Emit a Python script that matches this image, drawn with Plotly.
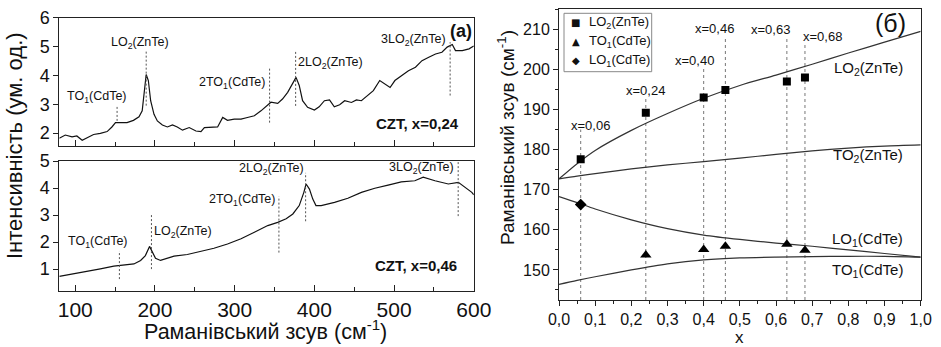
import plotly.graph_objects as go

# ---------------- data ----------------
# spectrum, CZT x=0,24 (top panel)
top_shift = [80, 87.5, 96, 102, 108.7, 115, 123, 131.5, 140, 146, 150.5, 156.8, 165, 173, 180, 184, 187, 189,
             191.7, 194.6, 198.8, 203, 209.3, 215.6, 222, 228, 234.6, 243, 251.4, 257.7, 262, 270, 278.6, 285,
             291, 299.5, 308, 316, 324.7, 333, 341, 345.5, 354, 360, 366.5, 372.8, 377, 381, 385.2, 391.5, 400,
             406, 412.6, 419, 425, 431.7, 438, 446.5, 452.8, 459, 467.5, 474, 482, 488.6, 495, 501, 510, 518,
             526.8, 535, 543.5, 552, 560, 566.6, 573, 577, 585.6, 594, 600]
top_int = [1.82, 1.93, 1.87, 1.90, 1.75, 1.84, 1.95, 1.99, 2.05, 2.21, 2.36, 2.36, 2.36, 2.44, 2.56, 2.77, 3.47,
           4.03, 3.82, 3.12, 2.65, 2.42, 2.28, 2.21, 2.28, 2.21, 2.10, 2.19, 2.07, 2.05, 2.19, 2.21, 2.21, 2.54,
           2.44, 2.48, 2.48, 2.54, 2.60, 2.77, 2.98, 3.07, 3.03, 3.18, 3.41, 3.70, 3.93, 3.65, 3.12, 2.89, 2.80,
           2.91, 3.12, 3.15, 2.91, 2.98, 3.12, 3.06, 3.15, 3.12, 3.30, 3.47, 3.82, 3.70, 3.58, 3.82, 3.99, 4.16,
           4.28, 4.51, 4.63, 4.74, 4.80, 4.98, 5.07, 4.86, 4.86, 4.92, 5.02]

# spectrum, CZT x=0,46 (bottom panel)
bot_shift = [80, 98, 115, 131.5, 148.4, 157, 173.6, 182, 188, 193.2, 196.5, 200.7, 207, 224, 240.6, 257.3, 274,
             291, 308, 324.7, 341.5, 354, 364.6, 373, 381, 386.8, 389.6, 393.8, 398, 402, 408.5, 425.3, 442, 459,
             475.8, 492.5, 509, 526, 536.5, 551.3, 568, 580.6, 589, 597.5, 600]
bot_int = [0.73, 0.82, 0.91, 1.01, 1.11, 1.13, 1.19, 1.32, 1.50, 1.84, 1.62, 1.40, 1.32, 1.48, 1.54, 1.65, 1.77,
           1.93, 2.12, 2.36, 2.61, 2.73, 2.86, 3.04, 3.35, 3.84, 4.15, 3.96, 3.59, 3.35, 3.35, 3.47, 3.62, 3.84,
           3.99, 4.11, 4.23, 4.27, 4.40, 4.27, 4.15, 4.21, 4.03, 3.84, 3.75]

# mode markers (dashed lines) in spectra
mode_names = ["TO<sub>1</sub>(CdTe)", "LO<sub>2</sub>(ZnTe)", "2TO<sub>1</sub>(CdTe)",
              "2LO<sub>2</sub>(ZnTe)", "3LO<sub>2</sub>(ZnTe)"]
top_mode_x = [152.5, 189, 343.8, 376.5, 570.3]
top_mode_y0 = [2.42, 2.95, 2.36, 2.94, 3.3]
top_mode_y1 = [2.91, 4.86, 4.28, 4.86, 5.15]
bot_mode_x = [155.4, 195.6, 355.5, 389, 580.4]
bot_mode_y0 = [0.63, 1.0, 1.61, 2.77, 2.96]
bot_mode_y1 = [1.67, 3.02, 3.69, 4.56, 4.96]

# panel (б): composition dependence
comp_x = [0.06, 0.24, 0.40, 0.46, 0.63, 0.68]
comp_labels = ["x=0,06", "x=0,24", "x=0,40", "x=0,46", "x=0,63", "x=0,68"]
comp_line_top = [185.0, 192.8, 200.3, 208.0, 208.0, 206.1]
lo2_pts = [177.6, 189.2, 193.0, 194.9, 197.0, 198.0]
to1_x = [0.24, 0.40, 0.46, 0.63, 0.68]
to1_pts = [153.7, 155.1, 155.9, 156.4, 154.9]
lo1_x = [0.06]
lo1_pts = [166.3]

curve_x = [0, 0.05, 0.1, 0.2, 0.3, 0.4, 0.5, 0.6, 0.7, 0.8, 0.9, 1.0]
lo2_curve = [172.7, 176.5, 179.8, 184.8, 189.0, 192.8, 196.0, 198.6, 201.3, 204.1, 206.8, 209.5]
to2_curve = [172.7, 173.4, 174.0, 175.2, 176.2, 177.0, 177.9, 178.8, 179.7, 180.4, 180.9, 181.2]
lo1_curve = [168.3, 166.8, 165.2, 162.5, 160.3, 158.7, 157.6, 156.7, 155.9, 155.0, 154.1, 153.2]
to1_curve = [146.4, 147.4, 148.3, 150.0, 151.5, 152.5, 153.0, 153.2, 153.3, 153.4, 153.4, 153.2]

x_ticks = [0.0, 0.1, 0.2, 0.3, 0.4, 0.5, 0.6, 0.7, 0.8, 0.9, 1.0]
x_ticktext = ["0,0", "0,1", "0,2", "0,3", "0,4", "0,5", "0,6", "0,7", "0,8", "0,9", "1,0"]

# ---------------- figure ----------------
W, H = 941, 347
FONT = "Liberation Sans, Arial, sans-serif"


def P(x, y):
    return x / W, 1 - y / H


fig = go.Figure()

fig.add_trace(go.Scatter(x=top_shift, y=top_int, mode="lines", line=dict(color="#111", width=1.2),
                         xaxis="x", yaxis="y", showlegend=False))
fig.add_trace(go.Scatter(x=bot_shift, y=bot_int, mode="lines", line=dict(color="#111", width=1.2),
                         xaxis="x2", yaxis="y2", showlegend=False))

curve_line = dict(color="#333", width=1.2, shape="spline", smoothing=0.8)
for cy in [lo2_curve, to2_curve, lo1_curve, to1_curve]:
    fig.add_trace(go.Scatter(x=curve_x, y=cy, mode="lines", line=curve_line,
                             xaxis="x3", yaxis="y3", showlegend=False))

fig.add_trace(go.Scatter(x=comp_x, y=lo2_pts, mode="markers", name="LO2(ZnTe)",
                         marker=dict(symbol="square", size=8, color="black"),
                         xaxis="x3", yaxis="y3", showlegend=False))
fig.add_trace(go.Scatter(x=to1_x, y=to1_pts, mode="markers", name="TO1(CdTe)",
                         marker=dict(symbol="triangle-up", size=10, color="black"),
                         xaxis="x3", yaxis="y3", showlegend=False))
fig.add_trace(go.Scatter(x=lo1_x, y=lo1_pts, mode="markers", name="LO1(CdTe)",
                         marker=dict(symbol="diamond", size=9, color="black"),
                         xaxis="x3", yaxis="y3", showlegend=False))

shapes = []
for xv, a, b in zip(top_mode_x, top_mode_y0, top_mode_y1):
    shapes.append(dict(type="line", xref="x", yref="y", x0=xv, x1=xv, y0=a, y1=b,
                       line=dict(color="#555", width=1, dash="2px,2px")))
for xv, a, b in zip(bot_mode_x, bot_mode_y0, bot_mode_y1):
    shapes.append(dict(type="line", xref="x2", yref="y2", x0=xv, x1=xv, y0=a, y1=b,
                       line=dict(color="#555", width=1, dash="2px,2px")))
for xv, t in zip(comp_x, comp_line_top):
    shapes.append(dict(type="line", xref="x3", yref="y3", x0=xv, x1=xv, y0=142.5, y1=t, layer="below",
                       line=dict(color="#777", width=1, dash="dot")))
# legend box
lx0, ly0 = P(564, 13.3)
lx1, ly1 = P(651.7, 71.7)
shapes.append(dict(type="rect", xref="paper", yref="paper", x0=lx0, x1=lx1, y0=ly1, y1=ly0,
                   line=dict(color="#888", width=1), fillcolor="white"))

ann = []


def A(text, x, y, size, bold=False, xanchor="center", angle=0, family=FONT):
    px, py = P(x, y)
    ann.append(dict(text=("<b>%s</b>" % text) if bold else text, x=px, y=py, xref="paper", yref="paper",
                    xanchor=xanchor, yanchor="middle", showarrow=False, textangle=angle,
                    font=dict(family=family, size=size, color="#111")))


# top spectrum labels
for t, (x, y) in zip(mode_names, [(96.5, 97.5), (140.3, 43), (231.7, 83.3), (330.5, 63.3), (413.3, 40)]):
    A(t, x, y, 12.5)
A("(a)", 461, 30.7, 18, bold=True)
A("CZT, x=0,24", 417.7, 123.3, 15, bold=True)
# bottom spectrum labels
for t, (x, y) in zip(mode_names, [(97.5, 241.7), (183.3, 231.7), (241.7, 200), (271, 168.7), (421.7, 168)]):
    A(t, x, y, 12.5)
A("CZT, x=0,46", 415.8, 265.8, 15, bold=True)
# axis titles
A("Інтенсивність (ум. од.)", 14, 146, 22, angle=-90)
A("Раманівський зсув (см<sup>-1</sup>)", 265, 330, 21.5)
A("Раманівський зсув (см<sup>-1</sup>)", 506, 137, 19, angle=-90)
A("x", 739, 337.5, 17)
# panel (б) labels
A("(б)", 890, 23, 25)
A("LO<sub>2</sub>(ZnTe)", 905, 69, 15, xanchor="right")
A("TO<sub>2</sub>(ZnTe)", 905, 155, 15, xanchor="right")
A("LO<sub>1</sub>(CdTe)", 905, 239, 15, xanchor="right")
A("TO<sub>1</sub>(CdTe)", 905, 270, 15, xanchor="right")
for t, (x, y) in zip(comp_labels, [(590, 125), (645.7, 90), (694, 60), (714, 28.3), (770.7, 30), (822.3, 36)]):
    A(t, x, y, 13)
# legend entries
for sym, t, y in zip(["■", "▲", "◆"], ["LO<sub>2</sub>(ZnTe)", "TO<sub>1</sub>(CdTe)", "LO<sub>1</sub>(CdTe)"],
                     [22.7, 41.7, 60]):
    A(sym, 575.7, y, 10, family="DejaVu Sans")
    A(t, 586.5, y, 13, xanchor="left")

axis_common = dict(showline=True, linecolor="#222", linewidth=1, mirror=True, showgrid=False,
                   zeroline=False, tickcolor="#222", automargin=False)

fig.update_layout(
    template="none",
    width=W, height=H, margin=dict(l=0, r=0, t=0, b=0, pad=0), autosize=False,
    paper_bgcolor="white", plot_bgcolor="white",
    font=dict(family=FONT, color="#111"),
    shapes=shapes, annotations=ann, showlegend=False,
    xaxis=dict(domain=[59.3 / W, 473.8 / W], range=[80, 600], anchor="y", showticklabels=False,
               ticks="inside", ticklen=6, tickvals=[100, 200, 300, 400, 500, 600],
               minor=dict(dtick=50, tick0=50, ticks="inside", ticklen=4, tickcolor="#222"), **axis_common),
    yaxis=dict(domain=[1 - 146 / H, 1 - 17.7 / H], range=[1.55, 6], anchor="x",
               tickvals=[2, 3, 4, 5, 6], ticks="outside", ticklen=5, tickfont=dict(size=18), **axis_common),
    xaxis2=dict(domain=[59.3 / W, 473.8 / W], range=[80, 600], anchor="y2",
                ticks="inside", ticklen=6, tickvals=[100, 200, 300, 400, 500, 600], tickfont=dict(size=21),
                minor=dict(dtick=50, tick0=50, ticks="inside", ticklen=4, tickcolor="#222"), **axis_common),
    yaxis2=dict(domain=[1 - 290.7 / H, 1 - 161 / H], range=[0.2, 5], anchor="x2",
                tickvals=[1, 2, 3, 4, 5], ticks="outside", ticklen=5, tickfont=dict(size=18), **axis_common),
    xaxis3=dict(domain=[559 / W, 920.7 / W], range=[0, 1], anchor="y3",
                tickvals=x_ticks, ticktext=x_ticktext, ticks="outside", ticklen=5, tickfont=dict(size=16),
                minor=dict(dtick=0.05, tick0=0.05, ticks="outside", ticklen=3, tickcolor="#222"), **axis_common),
    yaxis3=dict(domain=[1 - 300 / H, 1 - 9.3 / H], range=[142.5, 215], anchor="x3",
                tickvals=[150, 160, 170, 180, 190, 200, 210], ticks="outside", ticklen=5, tickfont=dict(size=16),
                minor=dict(dtick=5, tick0=145, ticks="outside", ticklen=3, tickcolor="#222"), **axis_common),
    yaxis4=dict(overlaying="y3", anchor="x3", side="right", range=[142.5, 215], showticklabels=False,
                tickvals=[150, 160, 170, 180, 190, 200, 210], ticks="inside", ticklen=5, showgrid=False,
                zeroline=False, showline=False, tickcolor="#222", automargin=False,
                minor=dict(dtick=5, tick0=145, ticks="inside", ticklen=3, tickcolor="#222")),
)

fig.write_html("out.html", config={"displayModeBar": False},
               post_script="document.body.style.margin='0';document.body.style.overflow='hidden';")
